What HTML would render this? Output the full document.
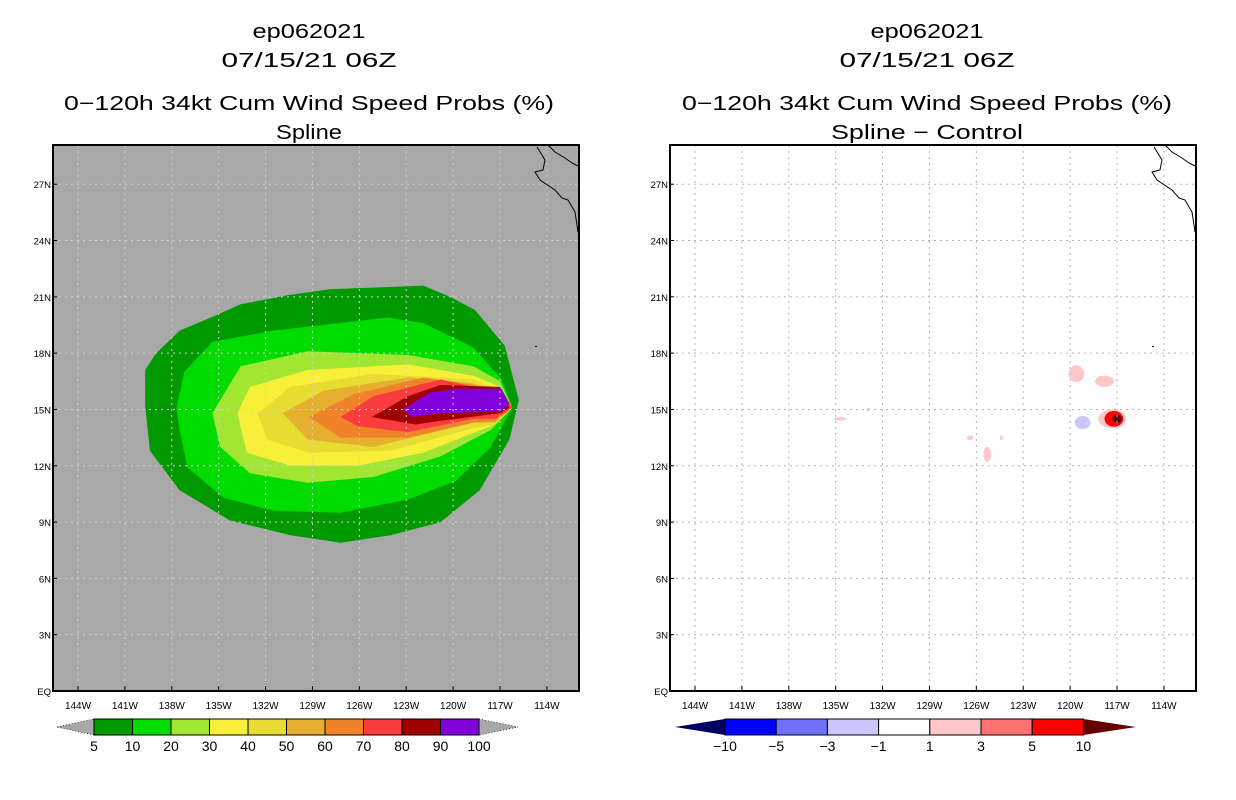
<!DOCTYPE html>
<html><head><meta charset="utf-8"><style>
body{margin:0;background:#fff;}
svg{display:block;font-family:"Liberation Sans",sans-serif;}
</style></head><body>
<svg id="fig" width="1236" height="800" viewBox="0 0 1236 800"></svg>
<script>
// ---- data ----
const probLevels = [5,10,20,30,40,50,60,70,80,90,100];
const probColors = ["#009a00","#00dc00","#a0e632","#f8f038","#e6dc32","#e6af2d","#f0822a","#fa3c3c","#a00000","#8200dc"];
const probPolys = [
 [[-139.7,17.1],[-139.0,18.0],[-137.5,19.2],[-135.5,19.9],[-133.6,20.6],[-130.5,21.1],[-127.9,21.4],[-121.9,21.6],[-120.2,21.0],[-118.6,20.3],[-116.7,18.4],[-115.8,15.5],[-116.4,13.4],[-118.3,10.7],[-120.8,9.0],[-124.0,8.3],[-127.2,7.9],[-130.4,8.3],[-134.3,9.1],[-137.5,10.7],[-139.4,12.8],[-139.7,15.2]],
 [[-137.7,15.1],[-137.2,17.0],[-135.4,18.6],[-131.5,19.2],[-124.2,19.9],[-121.9,19.6],[-118.7,18.3],[-116.9,16.6],[-116.2,15.1],[-117.6,13.0],[-119.8,11.2],[-122.9,10.2],[-127.2,9.5],[-131.5,9.6],[-134.7,10.3],[-137.0,11.9],[-137.5,13.9]],
 [[-135.4,14.8],[-133.6,17.3],[-129.3,18.1],[-122.9,17.9],[-118.7,17.3],[-117.0,16.5],[-116.2,15.1],[-117.6,13.9],[-120.8,12.5],[-125.1,11.4],[-129.3,11.1],[-133.0,11.6],[-134.9,13.0]],
 [[-133.8,14.8],[-133.0,16.2],[-129.3,17.1],[-122.9,17.4],[-118.7,16.8],[-117.0,16.2],[-116.2,15.1],[-117.6,14.1],[-121.9,12.7],[-126.1,12.0],[-130.4,12.0],[-133.2,12.7]],
 [[-132.5,14.8],[-130.4,16.2],[-125.1,16.9],[-118.7,16.6],[-117.0,16.0],[-116.2,15.1],[-117.3,14.2],[-118.7,14.0],[-124.0,12.8],[-129.3,12.7],[-131.9,13.4]],
 [[-130.9,14.8],[-128.3,16.0],[-122.9,16.7],[-118.7,16.4],[-116.7,15.8],[-116.2,15.1],[-117.3,14.3],[-118.7,14.3],[-125.1,13.0],[-129.3,13.4]],
 [[-129.2,14.6],[-126.4,15.8],[-121.9,16.7],[-118.7,16.3],[-116.7,15.8],[-116.2,15.1],[-117.3,14.4],[-118.7,14.3],[-122.9,13.5],[-127.2,13.5]],
 [[-127.2,14.6],[-125.1,15.7],[-120.8,16.6],[-118.7,16.2],[-116.7,15.7],[-116.2,15.1],[-117.3,14.5],[-118.7,14.5],[-122.9,13.8],[-126.1,14.1]],
 [[-125.2,14.6],[-122.9,15.7],[-120.8,16.3],[-117.0,16.2],[-116.4,15.1],[-117.0,14.8],[-120.8,14.4],[-122.4,14.2]],
 [[-123.2,15.0],[-121.5,15.9],[-119.8,16.1],[-116.9,16.1],[-116.4,15.3],[-116.9,14.9],[-120.8,14.8],[-122.6,14.6]]
];
const diffLevels = ["-10","-5","-3","-1","1","3","5","10"];
const diffColors = ["#000064","#0000ff","#7070ff","#c8c8ff","#ffffff","#ffc8c8","#ff7070","#ff0000","#640000"];
// blobs: lon, lat, value
const blobLon = [-119.6,-117.8,-119.2,-117.3,-117.2,-117.0,-134.7,-132.9,-126.4,-125.3,-124.4];
const blobLat = [16.9,16.5,14.3,14.5,14.5,14.5,14.5,15.0,13.5,12.6,13.5];
const blobVal = [2,2,-2,2,6,12,2,2,2,2,2];
const blobRx = [0.5,0.6,0.5,0.9,0.6,0.3,0.4,0.1,0.2,0.25,0.1];
const blobRy = [0.45,0.3,0.35,0.5,0.42,0.22,0.1,0.08,0.12,0.4,0.12];
const lonTicks = [-144,-141,-138,-135,-132,-129,-126,-123,-120,-117,-114];
const latTicks = [0,3,6,9,12,15,18,21,24,27];

const NS="http://www.w3.org/2000/svg";
const svg=document.getElementById('fig');
function el(tag,attrs,parent){const e=document.createElementNS(NS,tag);for(const k in attrs)e.setAttribute(k,attrs[k]);(parent||svg).appendChild(e);return e;}
function txt(x,y,s,size,anchor,parent){const t=el('text',{x:x,y:y,'font-size':size,'text-anchor':anchor||'middle',fill:'#000'},parent);t.textContent=s;return t;}

function panel(x0,left,bg,titleLines,titleLens,cx){
  const px=lon=>x0+(lon+144)*15.63;
  const py=lat=>691-lat*18.77;
  const g=el('g',{});
  
  
  const fx=x0-25, fw=526;
  const clip=el('clipPath',{id:'c'+x0},g);el('rect',{x:fx,y:145,width:fw,height:546},clip);
  const bgR=el('rect',{x:fx,y:145,width:fw,height:546,fill:bg},g);
  
  
  const inner=el('g',{'clip-path':'url(#c'+x0+')'},g);
  if(left){
    probPolys.forEach((poly,i)=>{
      const p=el('polygon',{points:poly.map(q=>px(q[0]).toFixed(1)+','+py(q[1]).toFixed(1)).join(' '),fill:probColors[i]},inner);
      
      
    });
  } else {
    const th=[-10,-5,-3,-1,1,3,5,10];
    blobVal.forEach((v,i)=>{
      let k=0;while(k<th.length&&v>=th[k])k++;
      const c=diffColors[k];
      const e=el('ellipse',{cx:px(blobLon[i]),cy:py(blobLat[i]),rx:blobRx[i]*15.63,ry:blobRy[i]*18.77,fill:c},inner);
      
      
    });
  }
  const gc=left?'#d0d0d0':'#b4b4b4';
  lonTicks.forEach(l=>{el('line',{x1:px(l),x2:px(l),y1:145,y2:691,stroke:gc,'stroke-dasharray':'2,4','stroke-width':1},inner);});
  latTicks.slice(1).forEach(l=>{el('line',{x1:fx,x2:fx+fw,y1:py(l),y2:py(l),stroke:gc,'stroke-dasharray':'2,4','stroke-width':1},inner);});
  const cs=x0-78;
  const coast=el('polyline',{points:[[537,147],[545,160],[543,170],[535,172],[540,180],[555,190],[562,198],[568,200],[575,212],[577,225],[578,232]].map(p=>(p[0]+cs)+','+p[1]).join(' '),fill:'none',stroke:'#000','stroke-width':1},inner);
  
  
  el('polyline',{points:[[548,145],[555,152],[565,158],[572,163],[578,166]].map(p=>(p[0]+cs)+','+p[1]).join(' '),fill:'none',stroke:'#000','stroke-width':1},inner);
  el('rect',{x:535+cs,y:346,width:2,height:1,fill:'#000'},inner);
  el('rect',{x:fx,y:145,width:fw,height:546,fill:'none',stroke:'#000','stroke-width':2},g);
  lonTicks.forEach(l=>{
    el('line',{x1:px(l),x2:px(l),y1:691,y2:686,stroke:'#000'},g);
    const t=txt(px(l),709,(-l)+'W',10,'middle',g);
    
    
  });
  latTicks.forEach(l=>{
    el('line',{x1:fx,x2:fx+4,y1:py(l),y2:py(l),stroke:'#000'},g);
    const t=txt(fx-2,py(l)+4,l===0?'EQ':l+'N',9.5,'end',g);
    
    
  });
  const ys=[38,67,110,139];
  titleLines.forEach((s,i)=>{
    const t=txt(cx,ys[i],s,20,'middle',g);
    t.setAttribute('textLength',titleLens[i]);
    t.setAttribute('lengthAdjust','spacingAndGlyphs');
    
    
  });
}
panel(78,true,'#a8a8a8',['ep062021','07/15/21 06Z','0\u2212120h 34kt Cum Wind Speed Probs (%)','Spline'],[113,175,490,66],309);
panel(695,false,'#ffffff',['ep062021','07/15/21 06Z','0\u2212120h 34kt Cum Wind Speed Probs (%)','Spline \u2212 Control'],[113,175,490,192],927);

(function(){
  const g=el('g',{});
  
  
  const x0=94,w=38.5,y=719,h=16;
  el('polygon',{points:`57,727 ${x0},${y} ${x0},${y+h}`,fill:'#a8a8a8',stroke:'#000','stroke-dasharray':'1,2','stroke-width':0.7},g);
  const xe=x0+w*10;
  el('polygon',{points:`${xe},${y} 518,727 ${xe},${y+h}`,fill:'#a8a8a8',stroke:'#000','stroke-dasharray':'1,2','stroke-width':0.7},g);
  probColors.forEach((c,i)=>{el('rect',{x:x0+i*w,y:y,width:w,height:h,fill:c,stroke:'#000','stroke-width':1},g);});
  probLevels.forEach((l,i)=>{txt(x0+i*w,751,String(l),14,'middle',g);});
})();
(function(){
  const g=el('g',{});
  
  
  const x0=725,w=51.2,y=719,h=16;
  el('polygon',{points:`675,727 ${x0},${y} ${x0},${y+h}`,fill:diffColors[0]},g);
  const xe=x0+w*7;
  el('polygon',{points:`${xe},${y} 1136,727 ${xe},${y+h}`,fill:diffColors[8]},g);
  for(let i=0;i<7;i++){el('rect',{x:x0+i*w,y:y,width:w,height:h,fill:diffColors[i+1],stroke:'#000','stroke-width':1},g);}
  diffLevels.forEach((l,i)=>{txt(x0+i*w,751,l.replace('-','\u2212'),14,'middle',g);});
})();
</script>
</body></html>
